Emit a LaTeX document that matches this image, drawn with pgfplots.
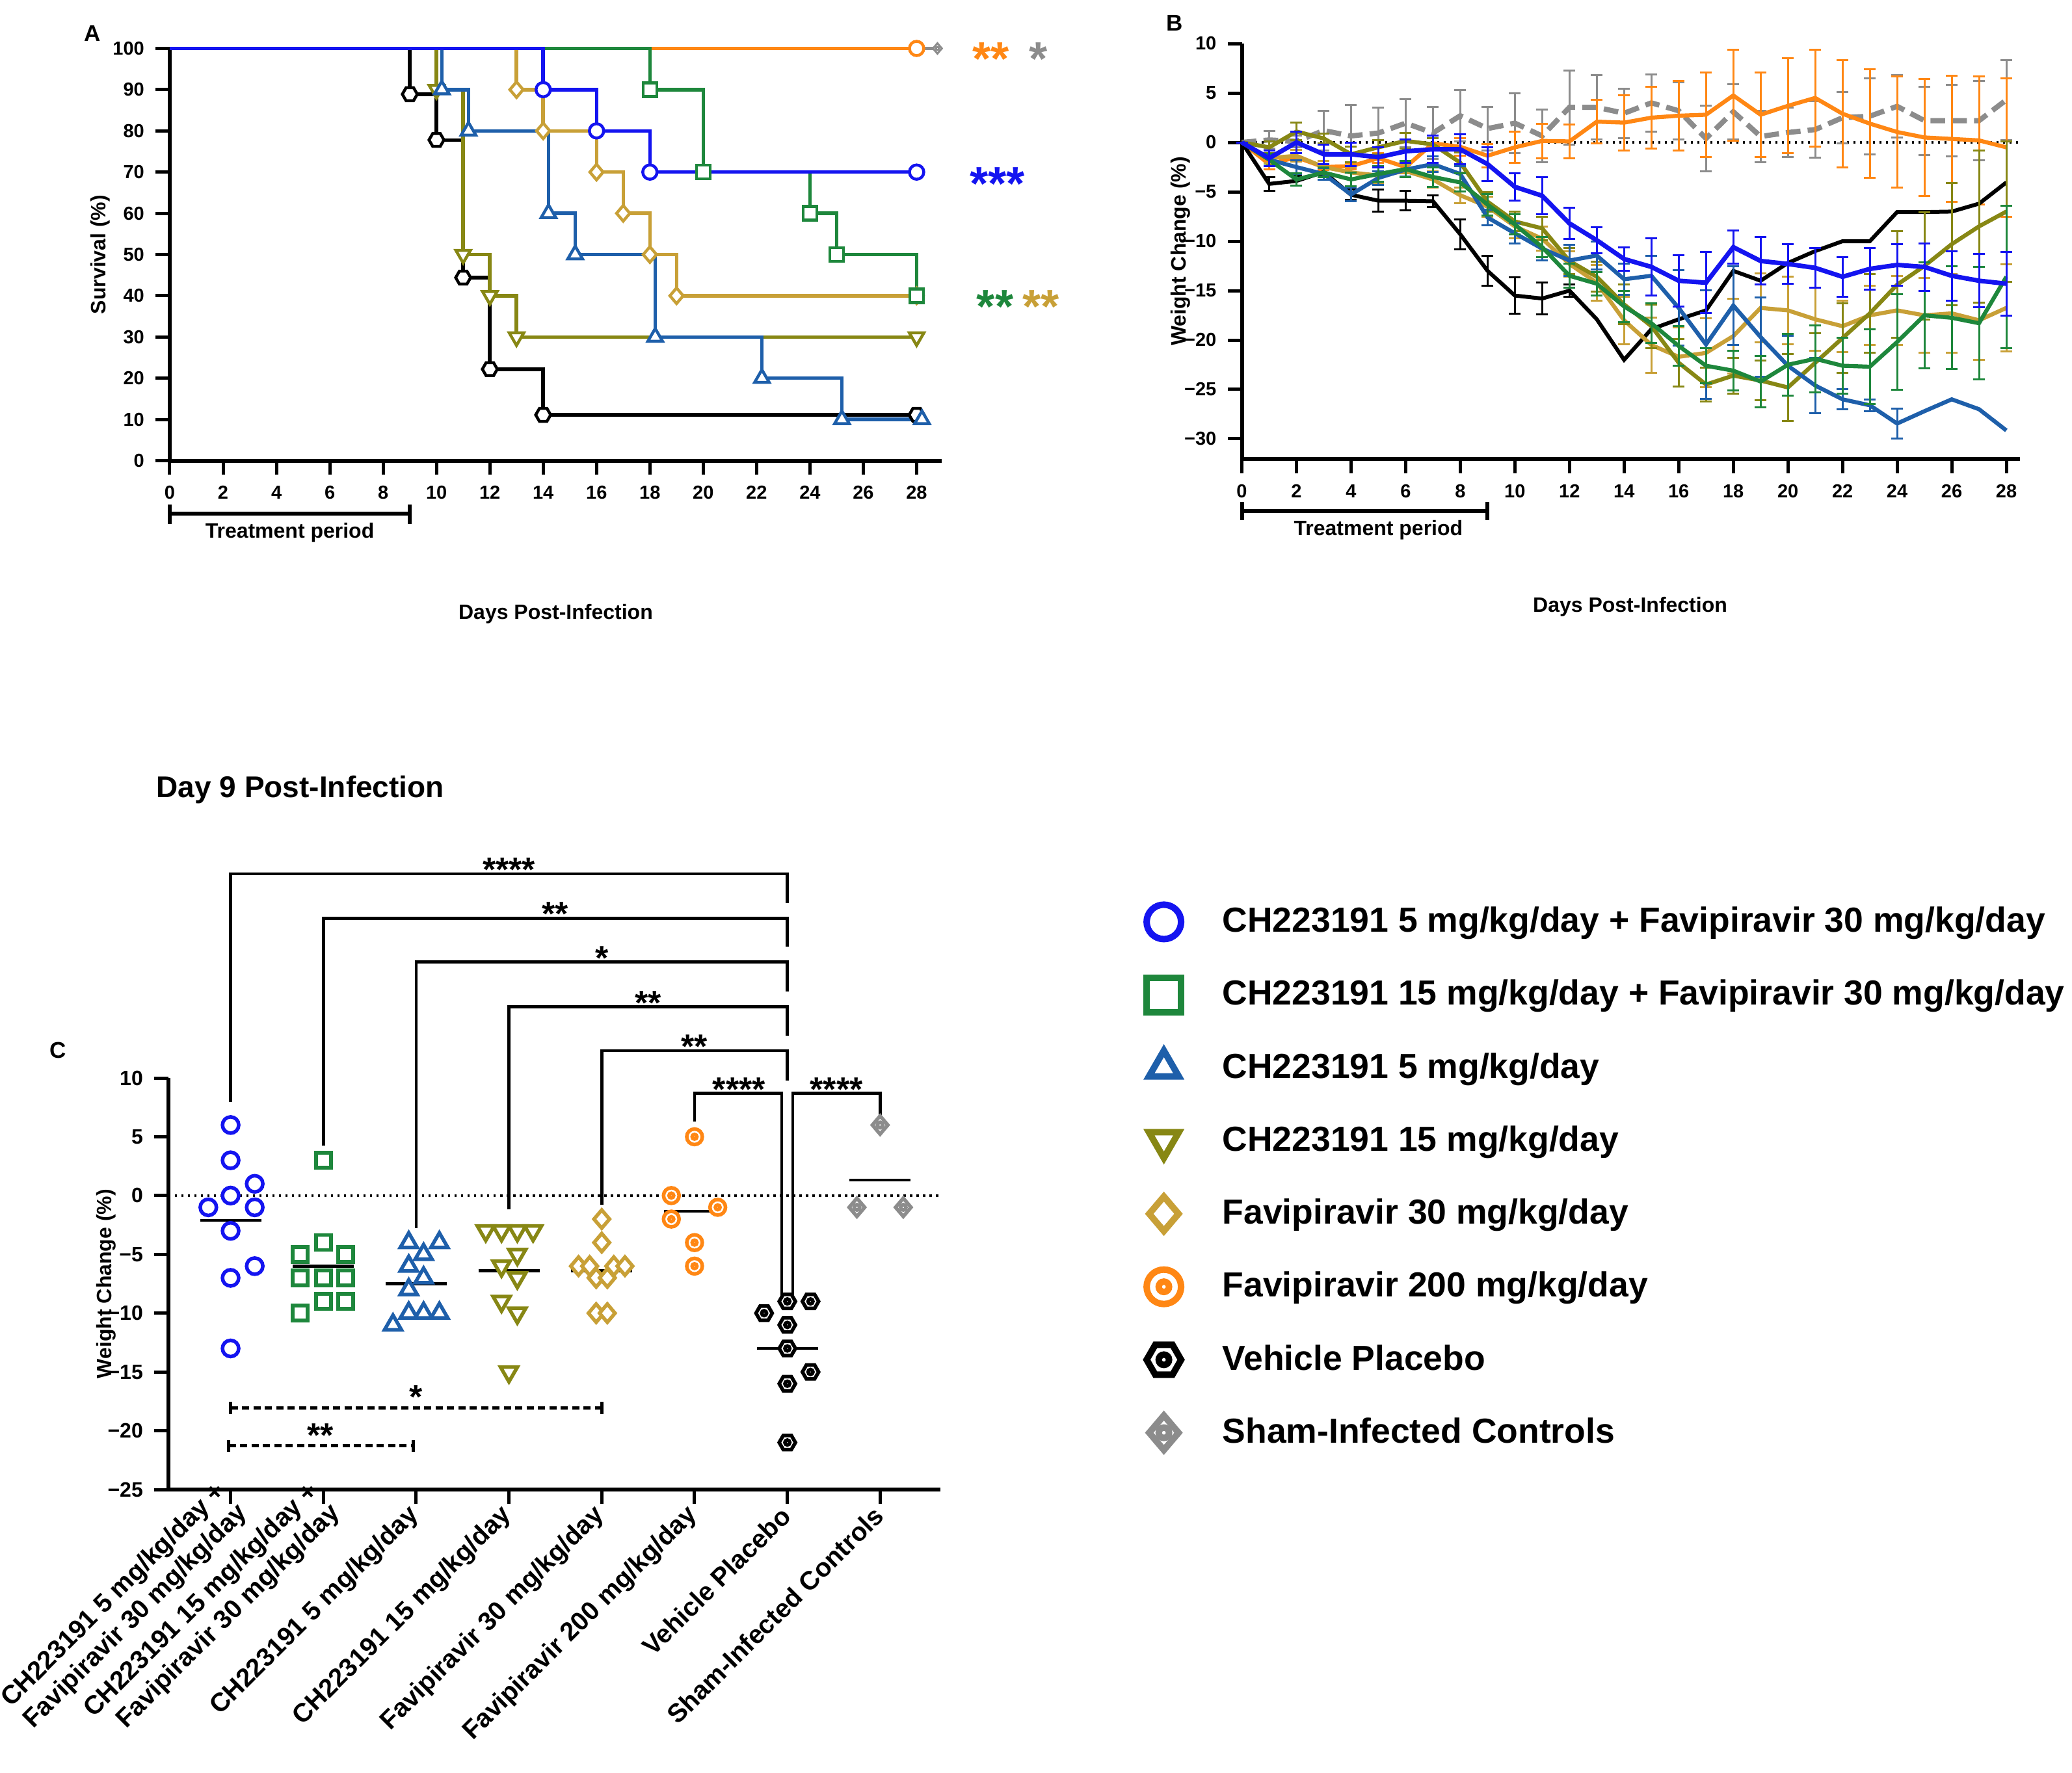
\documentclass[border=0pt]{standalone}
\usepackage{fontspec}
\setmainfont{Liberation Sans}
\usepackage{pgfplots}
\usepackage{pgfplotstable}
\pgfplotsset{compat=1.18}

\definecolor{cBlue}{RGB}{20,20,240}
\definecolor{cGreen}{RGB}{30,135,60}
\definecolor{cSteel}{RGB}{30,95,170}
\definecolor{cOlive}{RGB}{135,135,20}
\definecolor{cGold}{RGB}{200,160,55}
\definecolor{cOrange}{RGB}{255,135,20}
\definecolor{cGray}{RGB}{140,140,140}

\newcommand\fTick{\fontsize{5.8}{6.5}\selectfont\bfseries}
\newcommand\fTickC{\fontsize{6.4}{7}\selectfont\bfseries}
\newcommand\fLab{\fontsize{6.4}{7}\selectfont\bfseries}
\newcommand\fXl{\fontsize{8}{9.4}\selectfont\bfseries}
\newcommand\fLeg{\fontsize{10.7}{12}\selectfont\bfseries}
\newcommand\fStarA{\fontsize{14.5}{15}\selectfont\bfseries}
\newcommand\fStarC{\fontsize{10.4}{11}\selectfont\bfseries}
% tweaks for the two-line tick labels
\newcommand\lowdp{\rule[-5.7pt]{0pt}{1pt}}
\newcommand\pull{\hspace*{-3.5pt}}

% custom marks
\pgfdeclareplotmark{itri}{%
  \pgfpathmoveto{\pgfqpoint{0pt}{-\pgfplotmarksize}}%
  \pgfpathlineto{\pgfqpoint{0.866\pgfplotmarksize}{0.5\pgfplotmarksize}}%
  \pgfpathlineto{\pgfqpoint{-0.866\pgfplotmarksize}{0.5\pgfplotmarksize}}%
  \pgfpathclose\pgfusepathqfillstroke}
\pgfdeclareplotmark{hex}{%
  \pgfpathmoveto{\pgfqpoint{\pgfplotmarksize}{0pt}}%
  \pgfpathlineto{\pgfqpoint{0.5\pgfplotmarksize}{0.866\pgfplotmarksize}}%
  \pgfpathlineto{\pgfqpoint{-0.5\pgfplotmarksize}{0.866\pgfplotmarksize}}%
  \pgfpathlineto{\pgfqpoint{-\pgfplotmarksize}{0pt}}%
  \pgfpathlineto{\pgfqpoint{-0.5\pgfplotmarksize}{-0.866\pgfplotmarksize}}%
  \pgfpathlineto{\pgfqpoint{0.5\pgfplotmarksize}{-0.866\pgfplotmarksize}}%
  \pgfpathclose\pgfusepathqfillstroke}
\pgfdeclareplotmark{hexd}{%
  \pgfuseplotmark{hex}%
  \pgfpathcircle{\pgfpointorigin}{0.3\pgfplotmarksize}\pgfusepathqstroke}
\pgfdeclareplotmark{odot}{%
  \pgfpathcircle{\pgfpointorigin}{\pgfplotmarksize}\pgfusepathqfillstroke
  \pgfpathcircle{\pgfpointorigin}{0.3\pgfplotmarksize}\pgfusepathqstroke}
\pgfdeclareplotmark{dmd}{%
  \pgfpathmoveto{\pgfqpoint{0pt}{\pgfplotmarksize}}%
  \pgfpathlineto{\pgfqpoint{0.85\pgfplotmarksize}{0pt}}%
  \pgfpathlineto{\pgfqpoint{0pt}{-\pgfplotmarksize}}%
  \pgfpathlineto{\pgfqpoint{-0.85\pgfplotmarksize}{0pt}}%
  \pgfpathclose\pgfusepathqfillstroke}
\pgfdeclareplotmark{dmdd}{%
  \pgfuseplotmark{dmd}%
  \pgfpathcircle{\pgfpointorigin}{0.3\pgfplotmarksize}\pgfusepathqstroke}

\pgfplotsset{
  errb/.style={error bars/y dir=both, error bars/y explicit,
    error bars/error bar style={line width=0.6pt, solid},
    error bars/error mark options={rotate=90, mark size=1.8pt, line width=0.6pt, solid}},
  lg/.style={legend image code/.code={%
    \draw[##1, mark size=5.3pt, mark options={line width=2pt, fill=white}] plot coordinates {(0pt,0pt)};
    \path[draw=none, fill=none] (-7pt,-7pt) rectangle (17pt,7pt);}},
}

% panel B tables: day, weight change, error
\pgfplotstableread{
d w e
0 0 0
1 0.25 0.9
2 0.1 0.6
3 1.2 2.0
4 0.65 3.15
5 0.95 2.55
6 1.95 2.45
7 0.95 2.65
8 2.7 2.6
9 1.4 2.2
10 1.95 3.05
11 0.65 2.65
12 3.55 3.75
13 3.55 3.25
14 2.95 2.5
15 4.0 2.9
16 3.2 2.9
17 0.4 3.35
18 3.1 2.8
19 0.6 2.6
20 1.0 2.5
21 1.3 2.85
22 2.5 2.6
23 2.65 3.85
24 3.65 3.15
25 2.2 3.45
26 2.2 3.6
27 2.2 4.0
28 4.3 4.05
}\bGray
\pgfplotstableread{
d w e
0 0 0
1 -2.2 0.5
2 -1.5 0.4
3 -2.5 0.3
4 -2.4 0.3
5 -1.6 0.5
6 -2.5 0.6
7 -0.1 0.5
8 -0.45 0.9
9 -1.35 1.2
10 -0.5 1.6
11 0.15 1.75
12 0.1 1.7
13 2.1 2.2
14 2.0 2.8
15 2.5 3.1
16 2.7 3.5
17 2.8 4.3
18 4.75 4.6
19 2.8 4.3
20 3.7 4.8
21 4.5 4.9
22 2.9 5.4
23 1.9 5.5
24 1.05 5.6
25 0.5 5.9
26 0.35 6.4
27 0.2 6.5
28 -0.5 7.0
}\bOrange
\pgfplotstableread{
d w e
0 0 0
1 -4.2 0.7
2 -3.9 0.5
3 -3.0 0.4
4 -5.3 0.5
5 -5.9 1.1
6 -5.9 1.0
7 -5.95 0.6
8 -9.3 1.5
9 -13.0 1.5
10 -15.5 1.85
11 -15.8 1.6
12 -15.0 0.6
}\bBlackA
\pgfplotstableread{
d w
12 -15.0
13 -17.9
14 -22.0
15 -18.9
16 -17.9
17 -17.0
18 -13.0
19 -14.0
20 -12.2
21 -11.0
22 -10.0
23 -10.0
24 -7.05
25 -7.05
26 -7.0
27 -6.2
28 -4.05
}\bBlackB
\pgfplotstableread{
d w e
0 0 0
1 -1.6 0.5
2 -1.35 0.6
3 -2.5 0.6
4 -3.05 0.6
5 -3.35 0.8
6 -2.9 0.6
7 -3.75 0.8
8 -5.35 0.8
9 -6.5 1.0
10 -8.5 1.2
11 -9.75 1.2
12 -12.3 1.3
13 -14.2 1.8
14 -18.0 2.4
15 -20.5 2.8
16 -21.7 3.0
17 -21.3 3.5
18 -19.6 3.8
19 -16.75 3.5
20 -17.0 3.4
21 -17.9 3.2
22 -18.6 2.6
23 -17.5 3.0
24 -17.0 3.5
25 -17.5 3.8
26 -17.3 4.0
27 -18.0 4.0
28 -16.75 4.4
}\bGold
\pgfplotstableread{
d w e
0 0 0
1 -0.5 0.6
2 1.1 0.9
3 0.4 0.5
4 -1.2 0.8
5 -0.5 0.7
6 0.15 0.8
7 -0.2 0.6
8 -2.05 1.0
9 -6.0 1.0
10 -8.0 1.0
11 -8.7 1.2
12 -12.0 1.3
13 -13.6 1.5
14 -16.4 2.0
15 -18.6 2.2
16 -22.3 2.4
17 -24.5 1.7
18 -23.6 1.8
19 -24.1 2.0
20 -24.8 3.4
21 -22.3 3.0
22 -19.8 3.5
23 -17.3 4.0
24 -14.4 5.4
25 -12.5 5.4
26 -10.3 6.2
27 -8.5 7.7
28 -7.0 7.1
}\bOlive
\pgfplotstableread{
d w e
0 0 0
1 -1.75 0.6
2 -2.5 0.7
3 -3.2 0.6
4 -5.27 0.7
5 -3.6 0.7
6 -2.75 0.7
7 -2.2 0.8
8 -3.2 0.8
9 -7.6 0.8
10 -9.2 1.0
11 -10.75 1.2
12 -11.95 1.6
13 -11.45 1.4
14 -13.85 1.6
15 -13.5 2.0
16 -16.75 3.8
17 -20.45 5.5
18 -16.5 4.0
19 -19.7 4.0
20 -22.6 3.0
21 -24.6 2.8
22 -26.0 1.0
23 -26.6 0.6
24 -28.45 1.5
}\bSteelA
\pgfplotstableread{
d w
24 -28.45
25 -27.2
26 -26.0
27 -27.0
28 -29.15
}\bSteelB
\pgfplotstableread{
d w e
0 0 0
1 -1.75 0.6
2 -3.75 0.6
3 -3.05 0.5
4 -3.75 0.7
5 -3.2 0.8
6 -2.7 0.8
7 -3.5 1.0
8 -4.05 0.9
9 -6.3 1.1
10 -8.3 1.0
11 -10.6 1.0
12 -13.5 1.2
13 -14.3 1.2
14 -16.6 1.6
15 -18.3 2.0
16 -20.6 2.0
17 -22.6 1.8
18 -23.1 2.0
19 -24.2 2.6
20 -22.5 3.1
21 -21.9 3.4
22 -22.6 2.8
23 -22.7 3.8
24 -20.2 4.85
25 -17.5 5.35
26 -17.75 5.2
27 -18.3 5.7
28 -13.6 7.2
}\bGreen
\pgfplotstableread{
d w e
0 0 0
1 -1.6 0.8
2 0.0 1.1
3 -1.2 1.0
4 -1.2 1.2
5 -1.5 1.0
6 -0.9 1.2
7 -0.7 1.4
8 -0.7 1.5
9 -2.2 1.7
10 -4.5 1.4
11 -5.4 1.9
12 -8.2 1.6
13 -9.9 1.3
14 -11.8 1.2
15 -12.6 2.9
16 -14.0 2.6
17 -14.2 3.1
18 -10.6 1.7
19 -12.0 2.4
20 -12.3 2.0
21 -12.7 2.0
22 -13.6 2.0
23 -12.8 2.1
24 -12.4 2.1
25 -12.6 2.4
26 -13.5 2.5
27 -14.0 2.7
28 -14.3 3.2
}\bBlue

\begin{document}
\begin{tikzpicture}[font=\bfseries]
\useasboundingbox (0,0) rectangle (637.2pt,-545.4pt);

% panel letters and title
\node[anchor=center, font=\fontsize{7}{8}\selectfont\bfseries] at (28.4pt,-10.2pt) {A};
\node[anchor=center, font=\fontsize{7}{8}\selectfont\bfseries] at (361.2pt,-7pt) {B};
\node[anchor=center, font=\fontsize{7}{8}\selectfont\bfseries] at (17.8pt,-323pt) {C};
\node[anchor=west, font=\fontsize{9.2}{10}\selectfont\bfseries] at (44.6pt,-243pt) {Day 9 Post-Infection};

%================ Panel A: survival =================
\begin{axis}[at={(52.2pt,-141.7pt)}, anchor=south west,
  scale only axis, width=237.4pt, height=126.8pt,
  xmin=0, xmax=28.94, ymin=0, ymax=100, clip=false,
  axis lines*=left, axis line style={line width=1.2pt},
  tick align=outside, major tick length=4.3pt, tick style={line width=1pt, black},
  xtick={0,2,...,28}, ytick={0,10,...,100},
  tick label style={font=\fTick}, /pgf/number format/assume math mode=true,
  xlabel={Days Post-Infection}, ylabel={Survival (\%)},
  every axis x label/.style={at={(axis description cs:0.5,-0.372)}, anchor=center, font=\fLab},
  every axis y label/.style={at={(axis description cs:-0.090,0.5)}, rotate=90, anchor=center, font=\fLab},
  ]
  \addplot[cGray, line width=1.1pt, const plot] coordinates {(0,100) (28.78,100)};
  \addplot[cOrange, line width=1.1pt, const plot] coordinates {(0,100) (28,100)};
  \addplot[black, line width=1.1pt, const plot] coordinates {(0,100) (9,88.9) (10,77.8) (11,44.4) (12,22.2) (14,11.1) (28,11.1)};
  \addplot[cOlive, line width=1.1pt, const plot] coordinates {(0,100) (10,90) (11,50) (12,40) (13,30) (28,30)};
  \addplot[cSteel, line width=1.1pt, const plot] coordinates {(0,100) (10.2,90) (11.2,80) (14.2,60) (15.2,50) (18.2,30) (22.2,20) (25.2,10) (28.2,10)};
  \addplot[cGold, line width=1.1pt, const plot] coordinates {(0,100) (13,90) (14,80) (16,70) (17,60) (18,50) (19,40) (28,40)};
  \addplot[cGreen, line width=1.1pt, const plot] coordinates {(0,100) (18,90) (20,70) (24,60) (25,50) (28,40)};
  \addplot[cBlue, line width=1.1pt, const plot] coordinates {(0,100) (14,90) (16,80) (18,70) (28,70)};
  % symbols at events
  \addplot[cGray, only marks, mark=dmdd, mark size=1.6pt, mark options={fill=white, line width=0.6pt}] coordinates {(28.78,100)};
  \addplot[cOrange, only marks, mark=*, mark size=2.2pt, mark options={fill=white, line width=0.9pt}] coordinates {(28,100)};
  \addplot[black, only marks, mark=hex, mark size=2.3pt, mark options={fill=white, line width=0.9pt}] coordinates {(9,88.9) (10,77.8) (11,44.4) (12,22.2) (14,11.1) (28,11.1)};
  \addplot[cOlive, only marks, mark=itri, mark size=2.6pt, mark options={fill=white, line width=0.9pt}] coordinates {(10,90) (11,50) (12,40) (13,30) (28,30)};
  \addplot[cSteel, only marks, mark=triangle*, mark size=2.6pt, mark options={fill=white, line width=0.9pt}] coordinates {(10.2,90) (11.2,80) (14.2,60) (15.2,50) (18.2,30) (22.2,20) (25.2,10) (28.2,10)};
  \addplot[cGold, only marks, mark=dmd, mark size=2.4pt, mark options={fill=white, line width=0.9pt}] coordinates {(13,90) (14,80) (16,70) (17,60) (18,50) (19,40) (28,40)};
  \addplot[cGreen, only marks, mark=square*, mark size=2.1pt, mark options={fill=white, line width=0.9pt}] coordinates {(18,90) (20,70) (24,60) (25,50) (28,40)};
  \addplot[cBlue, only marks, mark=*, mark size=2.2pt, mark options={fill=white, line width=0.9pt}] coordinates {(14,90) (16,80) (18,70) (28,70)};
  % treatment period
  \draw[line width=1.2pt] (axis cs:0,-12.9) -- (axis cs:9,-12.9);
  \draw[line width=1.2pt] (axis cs:0,-10.7) -- (axis cs:0,-15.3);
  \draw[line width=1.2pt] (axis cs:9,-10.7) -- (axis cs:9,-15.3);
  \node[font=\fLab] at (axis cs:4.5,-17.5) {Treatment period};
  % significance
  \node[anchor=base, font=\fStarA, text=cOrange, yshift=-8.5pt] at (axis cs:30.79,100.2) {**};
  \node[anchor=base, font=\fStarA, text=cGray, yshift=-8.5pt] at (axis cs:32.57,100.2) {*};
  \node[anchor=base, font=\fStarA, text=cBlue, yshift=-8.5pt] at (axis cs:31.03,69.9) {***};
  \node[anchor=base, font=\fStarA, text=cGreen, yshift=-8.5pt] at (axis cs:30.94,40.1) {**};
  \node[anchor=base, font=\fStarA, text=cGold, yshift=-8.5pt] at (axis cs:32.67,40.1) {**};
\end{axis}

%================ Panel B: weight change =================
\begin{axis}[at={(381.9pt,-141.2pt)}, anchor=south west,
  scale only axis, width=239.3pt, height=127.8pt,
  xmin=0, xmax=28.5, ymin=-32.04, ymax=10, clip=false,
  axis lines*=left, axis line style={line width=1.2pt},
  tick align=outside, major tick length=4.3pt, tick style={line width=1pt, black},
  xtick={0,2,...,28}, ytick={-30,-25,-20,-15,-10,-5,0,5,10},
  yticklabels={−30,−25,−20,−15,−10,−5,0,5,10},
  tick label style={font=\fTick}, /pgf/number format/assume math mode=true,
  xlabel={Days Post-Infection}, ylabel={Weight Change (\%)},
  every axis x label/.style={at={(axis description cs:0.499,-0.355)}, anchor=center, font=\fLab},
  every axis y label/.style={at={(axis description cs:-0.079,0.5)}, rotate=90, anchor=center, font=\fLab},
  ]
  \draw[black, line width=0.7pt, dash pattern=on 0.7pt off 1.3pt] (axis cs:0,0) -- (axis cs:28.5,0);
  \addplot[cGray, line width=1.6pt, dash pattern=on 4.5pt off 2.2pt, errb] table[x=d, y=w, y error=e] {\bGray};
  \addplot[cOrange, line width=1.25pt, errb] table[x=d, y=w, y error=e] {\bOrange};
  \addplot[black, line width=1.2pt, errb] table[x=d, y=w, y error=e] {\bBlackA};
  \addplot[black, line width=1.2pt] table[x=d, y=w] {\bBlackB};
  \addplot[cGold, line width=1.25pt, errb] table[x=d, y=w, y error=e] {\bGold};
  \addplot[cOlive, line width=1.25pt, errb] table[x=d, y=w, y error=e] {\bOlive};
  \addplot[cSteel, line width=1.25pt, errb] table[x=d, y=w, y error=e] {\bSteelA};
  \addplot[cSteel, line width=1.25pt] table[x=d, y=w] {\bSteelB};
  \addplot[cGreen, line width=1.25pt, errb] table[x=d, y=w, y error=e] {\bGreen};
  \addplot[cBlue, line width=1.4pt, errb] table[x=d, y=w, y error=e] {\bBlue};
  % treatment period
  \draw[line width=1.2pt] (axis cs:0,-37.3) -- (axis cs:9,-37.3);
  \draw[line width=1.2pt] (axis cs:0,-36.4) -- (axis cs:0,-38.2);
  \draw[line width=1.2pt] (axis cs:9,-36.4) -- (axis cs:9,-38.2);
  \node[font=\fLab] at (axis cs:5.0,-39.2) {Treatment period};
\end{axis}

%================ Panel C: day 9 scatter =================
\begin{axis}[at={(51.8pt,-458.2pt)}, anchor=south west,
  scale only axis, width=237.4pt, height=126.6pt,
  xmin=-0.67, xmax=7.65, ymin=-25, ymax=10, clip=false,
  axis lines*=left, axis line style={line width=1.2pt},
  tick align=outside, major tick length=4.3pt, tick style={line width=1pt, black},
  xtick={0,...,7},
  xticklabels={{CH223191 5 mg/kg/day +\pull\\Favipiravir 30 mg/kg/day\lowdp\pull},{CH223191 15 mg/kg/day +\pull\\Favipiravir 30 mg/kg/day\lowdp\pull},CH223191 5 mg/kg/day,CH223191 15 mg/kg/day,Favipiravir 30 mg/kg/day,Favipiravir 200 mg/kg/day,Vehicle Placebo,Sham-Infected Controls},
  xticklabel style={xshift=0.4pt, yshift=-1.6pt, rotate=45, anchor=east, align=right, font=\fXl, inner sep=1pt},
  ytick={-25,-20,...,10}, yticklabels={−25,−20,−15,−10,−5,0,5,10},
  yticklabel style={font=\fTickC},
  ylabel={Weight Change (\%)},
  every axis y label/.style={at={(axis description cs:-0.081,0.5)}, rotate=90, anchor=center, font=\fLab},
  legend style={draw=none, fill=none, at={(axis description cs:1.2465,1.452)}, anchor=north west,
    font=\fLeg, row sep=8.45pt, column sep=0pt, nodes={inner sep=1pt}},
  legend cell align=left,
  ]
  \draw[black, line width=0.7pt, dash pattern=on 0.7pt off 1.3pt] (axis cs:-0.67,0) -- (axis cs:7.65,0);
  \addplot[cBlue, only marks, mark=*, mark size=2.5pt, mark options={fill=white, line width=1.1pt}, lg]
    coordinates {(0,6) (0,3) (0.26,1) (0,0) (-0.24,-1) (0.26,-1) (0,-3) (0.26,-6) (0,-7) (0,-13)};
  \addlegendentry{CH223191 5 mg/kg/day + Favipiravir 30 mg/kg/day}
  \addplot[cGreen, only marks, mark=square*, mark size=2.3pt, mark options={fill=white, line width=1.1pt}, lg]
    coordinates {(1,3) (1,-4) (0.75,-5) (1.24,-5) (0.75,-7) (1,-7) (1.24,-7) (1,-9) (1.24,-9) (0.75,-10)};
  \addlegendentry{CH223191 15 mg/kg/day + Favipiravir 30 mg/kg/day}
  \addplot[cSteel, only marks, mark=triangle*, mark size=3pt, mark options={fill=white, line width=1.1pt}, lg]
    coordinates {(1.92,-4) (2.25,-4) (2.08,-5) (1.92,-6) (2.08,-7) (1.92,-8) (1.92,-10) (2.08,-10) (2.25,-10) (1.75,-11)};
  \addlegendentry{CH223191 5 mg/kg/day}
  \addplot[cOlive, only marks, mark=itri, mark size=3pt, mark options={fill=white, line width=1.1pt}, lg]
    coordinates {(2.75,-3) (2.92,-3) (3.09,-3) (3.26,-3) (3.09,-5) (2.92,-6) (3.09,-7) (2.92,-9) (3.09,-10) (3,-15)};
  \addlegendentry{CH223191 15 mg/kg/day}
  \addplot[cGold, only marks, mark=dmd, mark size=2.8pt, mark options={fill=white, line width=1.1pt}, lg]
    coordinates {(4,-2) (4,-4) (3.75,-6) (3.87,-6) (4.13,-6) (4.25,-6) (3.94,-7) (4.06,-7) (3.94,-10) (4.06,-10)};
  \addlegendentry{Favipiravir 30 mg/kg/day}
  \addplot[cOrange, only marks, mark=odot, mark size=2.4pt, mark options={fill=white, line width=1.1pt}, lg]
    coordinates {(5,5) (4.75,0) (5.25,-1) (4.75,-2) (5,-4) (5,-6)};
  \addlegendentry{Favipiravir 200 mg/kg/day}
  \addplot[black, only marks, mark=hexd, mark size=2.5pt, mark options={fill=white, line width=1.1pt}, lg]
    coordinates {(6,-9) (6.25,-9) (5.75,-10) (6,-11) (6,-13) (6.25,-15) (6,-16) (6,-21)};
  \addlegendentry{Vehicle Placebo}
  \addplot[cGray, only marks, mark=dmdd, mark size=2.8pt, mark options={fill=white, line width=1.1pt}, lg]
    coordinates {(7,6) (6.75,-1) (7.25,-1)};
  \addlegendentry{Sham-Infected Controls}
  % group means
  \addplot[black, line width=0.9pt, forget plot] coordinates {(-0.33,-2.1) (0.33,-2.1)};
  \addplot[black, line width=0.9pt, forget plot] coordinates {(0.67,-6.0) (1.33,-6.0)};
  \addplot[black, line width=0.9pt, forget plot] coordinates {(1.67,-7.5) (2.33,-7.5)};
  \addplot[black, line width=0.9pt, forget plot] coordinates {(2.67,-6.4) (3.33,-6.4)};
  \addplot[black, line width=0.9pt, forget plot] coordinates {(3.67,-6.4) (4.33,-6.4)};
  \addplot[black, line width=0.9pt, forget plot] coordinates {(4.67,-1.33) (5.33,-1.33)};
  \addplot[black, line width=0.9pt, forget plot] coordinates {(5.67,-13) (6.33,-13)};
  \addplot[black, line width=0.9pt, forget plot] coordinates {(6.67,1.33) (7.33,1.33)};
  % comparison brackets
  \draw[line width=0.9pt] (axis cs:0,7.96) |- (axis cs:6,27.35) -- (axis cs:6,24.86);
  \draw[line width=0.9pt] (axis cs:1,4.26) |- (axis cs:6,23.57) -- (axis cs:6,21.16);
  \draw[line width=0.9pt] (axis cs:2,-2.78) |- (axis cs:6,19.87) -- (axis cs:6,17.34);
  \draw[line width=0.9pt] (axis cs:3,-1.17) |- (axis cs:6,16.05) -- (axis cs:6,13.6);
  \draw[line width=0.9pt] (axis cs:4,-0.76) |- (axis cs:6,12.31) -- (axis cs:6,9.8);
  \draw[line width=0.9pt] (axis cs:5,6.28) |- (axis cs:5.94,8.69) -- (axis cs:5.94,-8.6);
  \draw[line width=0.9pt] (axis cs:6.06,-8.6) |- (axis cs:7,8.69) -- (axis cs:7,6.76);
  \node[anchor=base, font=\fStarC, yshift=-6.1pt] at (axis cs:3,28.4) {****};
  \node[anchor=base, font=\fStarC, yshift=-6.1pt] at (axis cs:3.5,24.66) {**};
  \node[anchor=base, font=\fStarC, yshift=-6.1pt] at (axis cs:4,20.9) {*};
  \node[anchor=base, font=\fStarC, yshift=-6.1pt] at (axis cs:4.5,17.1) {**};
  \node[anchor=base, font=\fStarC, yshift=-6.1pt] at (axis cs:5,13.4) {**};
  \node[anchor=base, font=\fStarC, yshift=-6.1pt] at (axis cs:5.48,9.7) {****};
  \node[anchor=base, font=\fStarC, yshift=-6.1pt] at (axis cs:6.53,9.7) {****};
  % dashed comparisons
  \draw[line width=0.9pt, dash pattern=on 2.2pt off 1.3pt] (axis cs:0,-18.06) -- (axis cs:4,-18.06);
  \draw[line width=0.9pt] (axis cs:0,-17.56) -- (axis cs:0,-18.56);
  \draw[line width=0.9pt] (axis cs:4,-17.56) -- (axis cs:4,-18.56);
  \draw[line width=0.9pt, dash pattern=on 2.2pt off 1.3pt] (axis cs:-0.02,-21.28) -- (axis cs:1.97,-21.28);
  \draw[line width=0.9pt] (axis cs:-0.02,-20.78) -- (axis cs:-0.02,-21.78);
  \draw[line width=0.9pt] (axis cs:1.97,-20.78) -- (axis cs:1.97,-21.78);
  \node[anchor=base, font=\fStarC, yshift=-6.1pt] at (axis cs:2,-16.45) {*};
  \node[anchor=base, font=\fStarC, yshift=-6.1pt] at (axis cs:0.97,-19.67) {**};
\end{axis}
\end{tikzpicture}
\end{document}
